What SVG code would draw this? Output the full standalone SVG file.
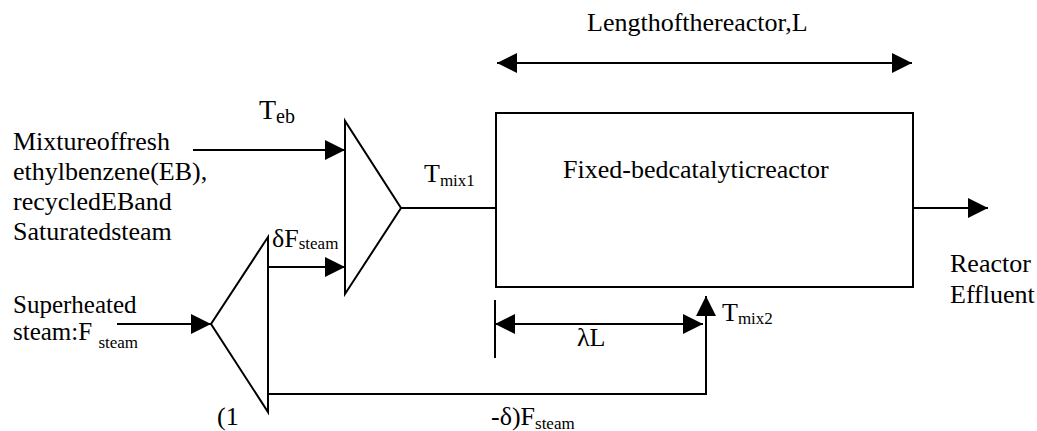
<svg xmlns="http://www.w3.org/2000/svg" width="1037" height="431" viewBox="0 0 1037 431">
<style>
text{font-family:'Liberation Serif','Times New Roman',serif;fill:#000;font-size:26px}
.sub{font-size:17px}
.ln{fill:none;stroke:#000;stroke-width:2}
.shape{fill:#fff;stroke:#000;stroke-width:2}
</style>
<defs>
<marker id="ah" markerUnits="userSpaceOnUse" markerWidth="20" markerHeight="20" refX="20" refY="10" orient="auto-start-reverse" viewBox="0 0 20 20">
<path d="M0,0 L20,10 L0,20 z" fill="#000"/>
</marker>
</defs>
<rect width="1037" height="431" fill="#fff"/>
<g id="connectors">
<path class="ln" d="M193,150 H345" marker-end="url(#ah)"/>
<path class="ln" d="M401,208 H496"/>
<path class="ln" d="M913,208 H988" marker-end="url(#ah)"/>
<path class="ln" d="M497,63 H912" marker-start="url(#ah)" marker-end="url(#ah)"/>
<path class="ln" d="M117,324 H211" marker-end="url(#ah)"/>
<path class="ln" d="M268,267 H345" marker-end="url(#ah)"/>
<path class="ln" d="M268,394 H706 V296" marker-end="url(#ah)"/>
<path class="ln" d="M495,324 H703" marker-start="url(#ah)" marker-end="url(#ah)"/>
<path class="ln" d="M495,300 V358"/>
</g>
<g id="mixer">
<polygon class="shape" points="345,121 345,294 401,208"/>
</g>
<g id="splitter">
<polygon class="shape" points="268,237 268,412 211,324"/>
</g>
<g id="reactor">
<rect class="shape" x="496" y="113" width="417" height="174"/>
<text x="563" y="178">Fixed-bedcatalyticreactor</text>
</g>
<g id="labels">
<text x="587" y="31">Lengthofthereactor,L</text>
<text x="13" y="150">Mixtureoffresh</text>
<text x="13" y="180">ethylbenzene(EB),</text>
<text x="13" y="210">recycledEBand</text>
<text x="13" y="240">Saturatedsteam</text>
<text x="259" y="119" style="font-size:28px">T<tspan class="sub" dy="4" style="font-size:20px">eb</tspan></text>
<text x="424" y="182">T<tspan class="sub" dy="4">mix1</tspan></text>
<text x="272" y="247">δF<tspan class="sub" dy="2">steam</tspan></text>
<text x="13" y="313" style="font-size:25px">Superheated</text>
<text x="13" y="340" style="font-size:25px">steam:F <tspan class="sub" dy="8">steam</tspan></text>
<text x="722" y="321">T<tspan class="sub" dy="3">mix2</tspan></text>
<text x="577" y="346">λL</text>
<text x="950" y="272">Reactor</text>
<text x="950" y="303">Effluent</text>
<text x="217" y="425">(1</text>
<text x="491" y="425">-δ)F<tspan class="sub" dy="4">steam</tspan></text>
</g>
</svg>
